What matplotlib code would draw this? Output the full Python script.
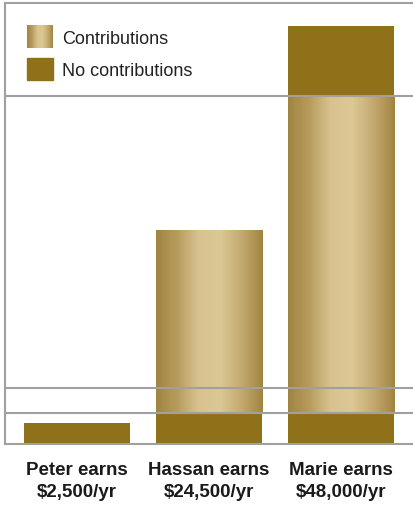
import numpy as np
import matplotlib.pyplot as plt
from matplotlib.colors import LinearSegmentedColormap
from matplotlib.patches import Rectangle

people = ["Peter earns\n$2,500/yr", "Hassan earns\n$24,500/yr", "Marie earns\n$48,000/yr"]
no_contrib_base = [21, 31, 31]
contributions = [0, 183, 317]
no_contrib_top = [0, 0, 70]
grid_levels = [31, 56, 348]

dark = "#8f7119"
line_gray = "#a0a0a0"
gold = LinearSegmentedColormap.from_list(
    "gold", ["#a08440", "#b89c5e", "#d8c390", "#dcc894", "#c4aa70", "#a08440"]
)
grad = np.linspace(0, 1, 256).reshape(1, -1)

plt.rcParams["font.family"] = ["Liberation Sans Narrow", "Liberation Sans", "DejaVu Sans"]

fig = plt.figure(figsize=(4.14, 5.07), dpi=100)
ax = fig.add_axes([5 / 414, 1 - 444 / 507, 409 / 414, 441 / 507])

x = np.arange(len(people))
width = 0.803

ax.bar(x, no_contrib_base, width, color=dark, zorder=2)
for xi, base, c, top in zip(x, no_contrib_base, contributions, no_contrib_top):
    if c > 0:
        ax.imshow(grad, cmap=gold, aspect="auto", zorder=2,
                  extent=(xi - width / 2, xi + width / 2, base, base + c))
    if top > 0:
        ax.bar(xi, top, width, bottom=base + c, color=dark, zorder=2)

for g in grid_levels:
    ax.axhline(g, color=line_gray, lw=1.5, zorder=3)

ax.set_xticks([])
ax.set_yticks([])
ax.spines["right"].set_visible(False)
for side in ["left", "top", "bottom"]:
    ax.spines[side].set_color(line_gray)
    ax.spines[side].set_linewidth(1.5)

# labels under the bars
for xi, label in zip(x, people):
    ax.text(xi, -18, label, ha="center", va="top", fontsize=13.5,
            fontweight="bold", color="#1a1a1a", linespacing=1.4)

# legend
ax.imshow(grad, cmap=gold, aspect="auto", transform=ax.transAxes, zorder=4,
          extent=(22 / 409, 48 / 409, 1 - 45 / 441, 1 - 22 / 441))
ax.add_patch(Rectangle((22 / 409, 1 - 77 / 441), 26 / 409, 22 / 441,
                       transform=ax.transAxes, color=dark, zorder=4))
ax.text(57 / 409, 1 - 36 / 441, "Contributions", transform=ax.transAxes,
        va="center", ha="left", fontsize=13, color="#222222")
ax.text(57 / 409, 1 - 68 / 441, "No contributions", transform=ax.transAxes,
        va="center", ha="left", fontsize=13, color="#222222")

ax.set_xlim(-0.545, 2.553)
ax.set_ylim(0, 441)

fig.savefig("out.png", dpi=100)
